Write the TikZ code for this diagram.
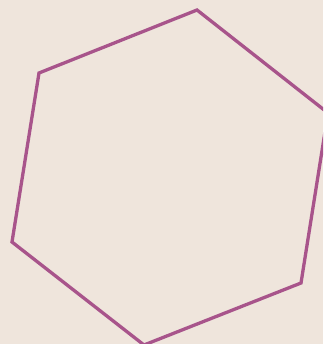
\documentclass[tikz,border=0pt]{standalone}
\usepackage{tikz}
\definecolor{paper}{HTML}{EFE5DC}
\definecolor{plum}{HTML}{A8548B}

\begin{document}
\begin{tikzpicture}[x=1pt, y=1pt,
  edge/.style={draw=plum, line width=3.3pt, line join=miter},
]
% background and frame
\fill[paper] (0,0) rectangle (323,-344);
\useasboundingbox (0,0) rectangle (323,-344);
% hexagon corners
\coordinate (H0) at (197,-10);
\coordinate (H1) at (39,-73);
\coordinate (H2) at (12,-242);
\coordinate (H3) at (144,-345);
\coordinate (H4) at (301,-283);
\coordinate (H5) at (328,-113);
\begin{scope}
\clip (0,0) rectangle (323,-344);
\draw[edge] (H0) -- (H1) -- (H2) -- (H3) -- (H4) -- (H5) -- cycle;
\end{scope}
\end{tikzpicture}
\end{document}
